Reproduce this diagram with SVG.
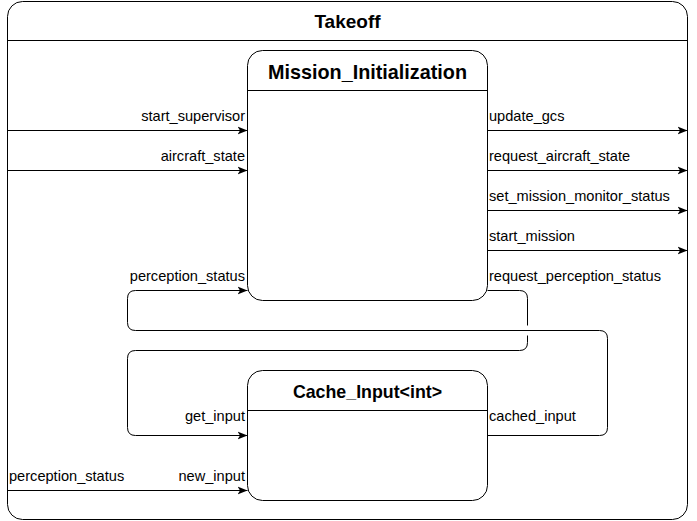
<svg xmlns="http://www.w3.org/2000/svg" width="697" height="521" viewBox="0 0 697 521">
<style>
.box{fill:#fff;stroke:#000;stroke-width:1}
.ln{fill:none;stroke:#000;stroke-width:1}
.t{font-family:"Liberation Sans",Arial,sans-serif;font-size:14.6px;fill:#000}
.r{text-anchor:end}
.h{font-family:"Liberation Sans",Arial,sans-serif;font-weight:bold;fill:#000;text-anchor:middle}
</style>
<defs>
<marker id="arr" viewBox="0 0 10 10" refX="10" refY="5" markerWidth="10" markerHeight="10" markerUnits="userSpaceOnUse" orient="auto">
<path d="M0,1 L10,5 L0,9 L2.5,5 Z" fill="#000"/>
</marker>
</defs>
<g id="Takeoff">
<rect class="box" x="7.5" y="1.5" width="680" height="518" rx="15" ry="15"/>
<line class="ln" x1="7.5" y1="40.5" x2="687.5" y2="40.5"/>
<text class="h" x="347.5" y="28" font-size="19">Takeoff</text>
</g>
<g id="Mission_Initialization">
<rect class="box" x="247.5" y="50.5" width="240" height="250" rx="15" ry="15"/>
<line class="ln" x1="247.5" y1="90.5" x2="487.5" y2="90.5"/>
<text class="h" x="367.5" y="79" font-size="19.8">Mission_Initialization</text>
</g>
<g id="Cache_Input">
<rect class="box" x="247.5" y="370.5" width="240" height="130" rx="15" ry="15"/>
<line class="ln" x1="247.5" y1="410.5" x2="487.5" y2="410.5"/>
<text class="h" x="367.5" y="398" font-size="17.8">Cache_Input&lt;int&gt;</text>
</g>
<g id="connectors">
<line class="ln" x1="7.5" y1="130.5" x2="247.5" y2="130.5" marker-end="url(#arr)"/>
<line class="ln" x1="7.5" y1="170.5" x2="247.5" y2="170.5" marker-end="url(#arr)"/>
<line class="ln" x1="487.5" y1="130.5" x2="687.5" y2="130.5" marker-end="url(#arr)"/>
<line class="ln" x1="487.5" y1="170.5" x2="687.5" y2="170.5" marker-end="url(#arr)"/>
<line class="ln" x1="487.5" y1="210.5" x2="687.5" y2="210.5" marker-end="url(#arr)"/>
<line class="ln" x1="487.5" y1="250.5" x2="687.5" y2="250.5" marker-end="url(#arr)"/>
<line class="ln" x1="7.5" y1="490.5" x2="247.5" y2="490.5" marker-end="url(#arr)"/>
<path class="ln" d="M487.5,435.5 H599.5 Q607.5,435.5 607.5,427.5 V338.5 Q607.5,330.5 599.5,330.5 H135.5 Q127.5,330.5 127.5,322.5 V298.5 Q127.5,290.5 135.5,290.5 H247.5" marker-end="url(#arr)"/>
<path class="ln" d="M487.5,290.5 H519.5 Q527.5,290.5 527.5,298.5 V325.5 M527.5,335.5 V342.5 Q527.5,350.5 519.5,350.5 H135.5 Q127.5,350.5 127.5,358.5 V427.5 Q127.5,435.5 135.5,435.5 H247.5" marker-end="url(#arr)"/>
<text class="t r" x="245" y="121">start_supervisor</text>
<text class="t r" x="245" y="161">aircraft_state</text>
<text class="t r" x="245" y="281">perception_status</text>
<text class="t r" x="245" y="421">get_input</text>
<text class="t r" x="245" y="481">new_input</text>
<text class="t" x="9" y="481">perception_status</text>
<text class="t" x="489" y="121">update_gcs</text>
<text class="t" x="489" y="161">request_aircraft_state</text>
<text class="t" x="489" y="201">set_mission_monitor_status</text>
<text class="t" x="489" y="241">start_mission</text>
<text class="t" x="489" y="281">request_perception_status</text>
<text class="t" x="489" y="421">cached_input</text>
</g>
</svg>
